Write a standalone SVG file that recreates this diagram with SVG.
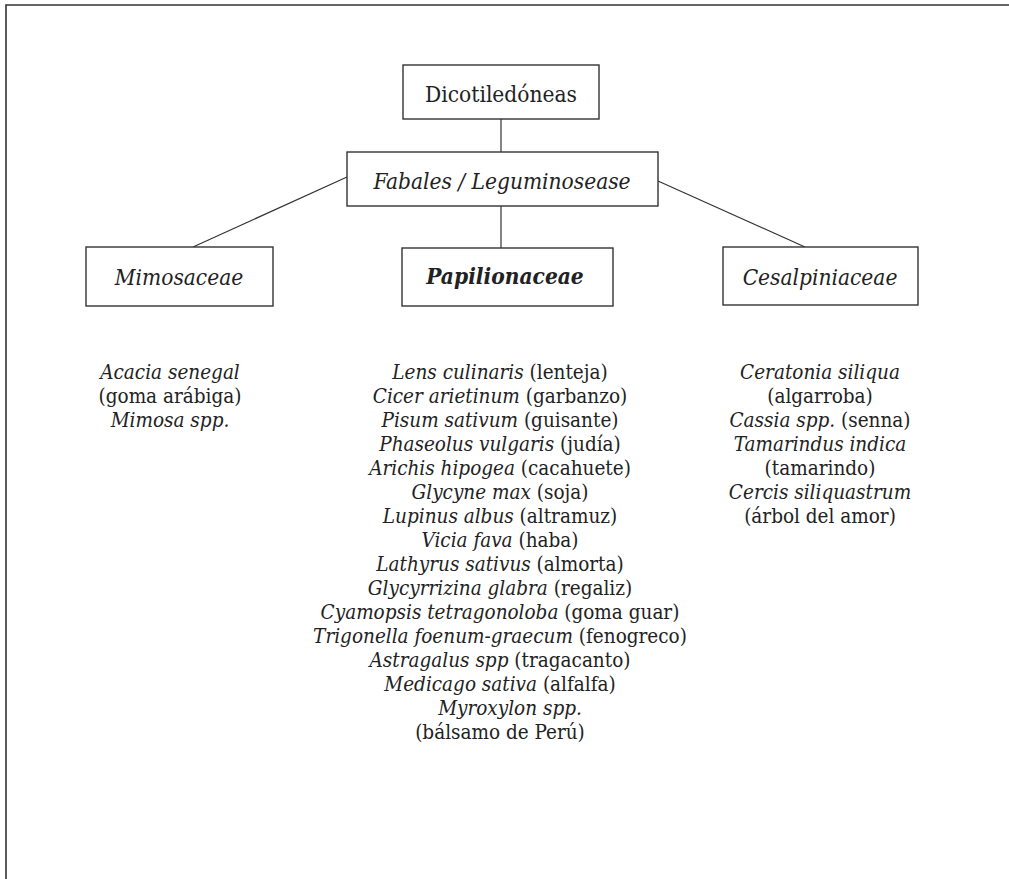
<svg xmlns="http://www.w3.org/2000/svg" width="1009" height="879" viewBox="0 0 1009 879">
<style>
.frame{fill:none;stroke:#333;stroke-width:1.6}
.box{fill:#fff;stroke:#333;stroke-width:1.4}
.conn{fill:none;stroke:#333;stroke-width:1.2}
text{font-family:"DejaVu Serif Condensed","DejaVu Serif",serif;font-stretch:condensed;fill:#222;text-anchor:middle}
.lbl{font-size:22.5px}
.it{font-style:italic}
.bi{font-style:italic;font-weight:bold}
.body{font-size:20.5px}
</style>
<path class="frame" d="M6,879 V5 H1009"/>
<g id="connectors">
<line class="conn" x1="501" y1="119" x2="501" y2="152"/>
<line class="conn" x1="501" y1="206" x2="501" y2="248"/>
<line class="conn" x1="347" y1="177" x2="193" y2="247"/>
<line class="conn" x1="658" y1="181" x2="805" y2="247"/>
</g>
<g id="dicot">
<rect class="box" x="403" y="65" width="196" height="54"/>
<text class="lbl" x="501" y="102">Dicotiledóneas</text>
</g>
<g id="fabales">
<rect class="box" x="347" y="152" width="311" height="54"/>
<text class="lbl it" x="502" y="189">Fabales / Leguminosease</text>
</g>
<g id="mimosaceae">
<rect class="box" x="86" y="247" width="187" height="59"/>
<text class="lbl it" x="179" y="285">Mimosaceae</text>
</g>
<g id="papilionaceae">
<rect class="box" x="402" y="248" width="211" height="58"/>
<text class="lbl bi" x="505" y="284">Papilionaceae</text>
</g>
<g id="cesalpiniaceae">
<rect class="box" x="723" y="247" width="195" height="58"/>
<text class="lbl it" x="820" y="285">Cesalpiniaceae</text>
</g>
<g id="mimosa-species" class="body">
<text class="body it" x="170" y="379">Acacia senegal</text>
<text class="body" x="170" y="403">(goma arábiga)</text>
<text class="body it" x="170" y="427">Mimosa spp.</text>
</g>
<g id="papilio-species">
<text class="body" x="500" y="379"><tspan class="it">Lens culinaris</tspan> (lenteja)</text>
<text class="body" x="500" y="403"><tspan class="it">Cicer arietinum</tspan> (garbanzo)</text>
<text class="body" x="500" y="427"><tspan class="it">Pisum sativum</tspan> (guisante)</text>
<text class="body" x="500" y="451"><tspan class="it">Phaseolus vulgaris</tspan> (judía)</text>
<text class="body" x="500" y="475"><tspan class="it">Arichis hipogea</tspan> (cacahuete)</text>
<text class="body" x="500" y="499"><tspan class="it">Glycyne max</tspan> (soja)</text>
<text class="body" x="500" y="523"><tspan class="it">Lupinus albus</tspan> (altramuz)</text>
<text class="body" x="500" y="547"><tspan class="it">Vicia fava</tspan> (haba)</text>
<text class="body" x="500" y="571"><tspan class="it">Lathyrus sativus</tspan> (almorta)</text>
<text class="body" x="500" y="595"><tspan class="it">Glycyrrizina glabra</tspan> (regaliz)</text>
<text class="body" x="500" y="619"><tspan class="it">Cyamopsis tetragonoloba</tspan> (goma guar)</text>
<text class="body" x="500" y="643"><tspan class="it">Trigonella foenum-graecum</tspan> (fenogreco)</text>
<text class="body" x="500" y="667"><tspan class="it">Astragalus spp</tspan> (tragacanto)</text>
<text class="body" x="500" y="691"><tspan class="it">Medicago sativa</tspan> (alfalfa)</text>
<text class="body it" x="510" y="715">Myroxylon spp.</text>
<text class="body" x="500" y="739">(bálsamo de Perú)</text>
</g>
<g id="cesal-species">
<text class="body it" x="820" y="379">Ceratonia siliqua</text>
<text class="body" x="820" y="403">(algarroba)</text>
<text class="body" x="820" y="427"><tspan class="it">Cassia spp.</tspan> (senna)</text>
<text class="body it" x="820" y="451">Tamarindus indica</text>
<text class="body" x="820" y="475">(tamarindo)</text>
<text class="body it" x="820" y="499">Cercis siliquastrum</text>
<text class="body" x="820" y="523">(árbol del amor)</text>
</g>
</svg>
